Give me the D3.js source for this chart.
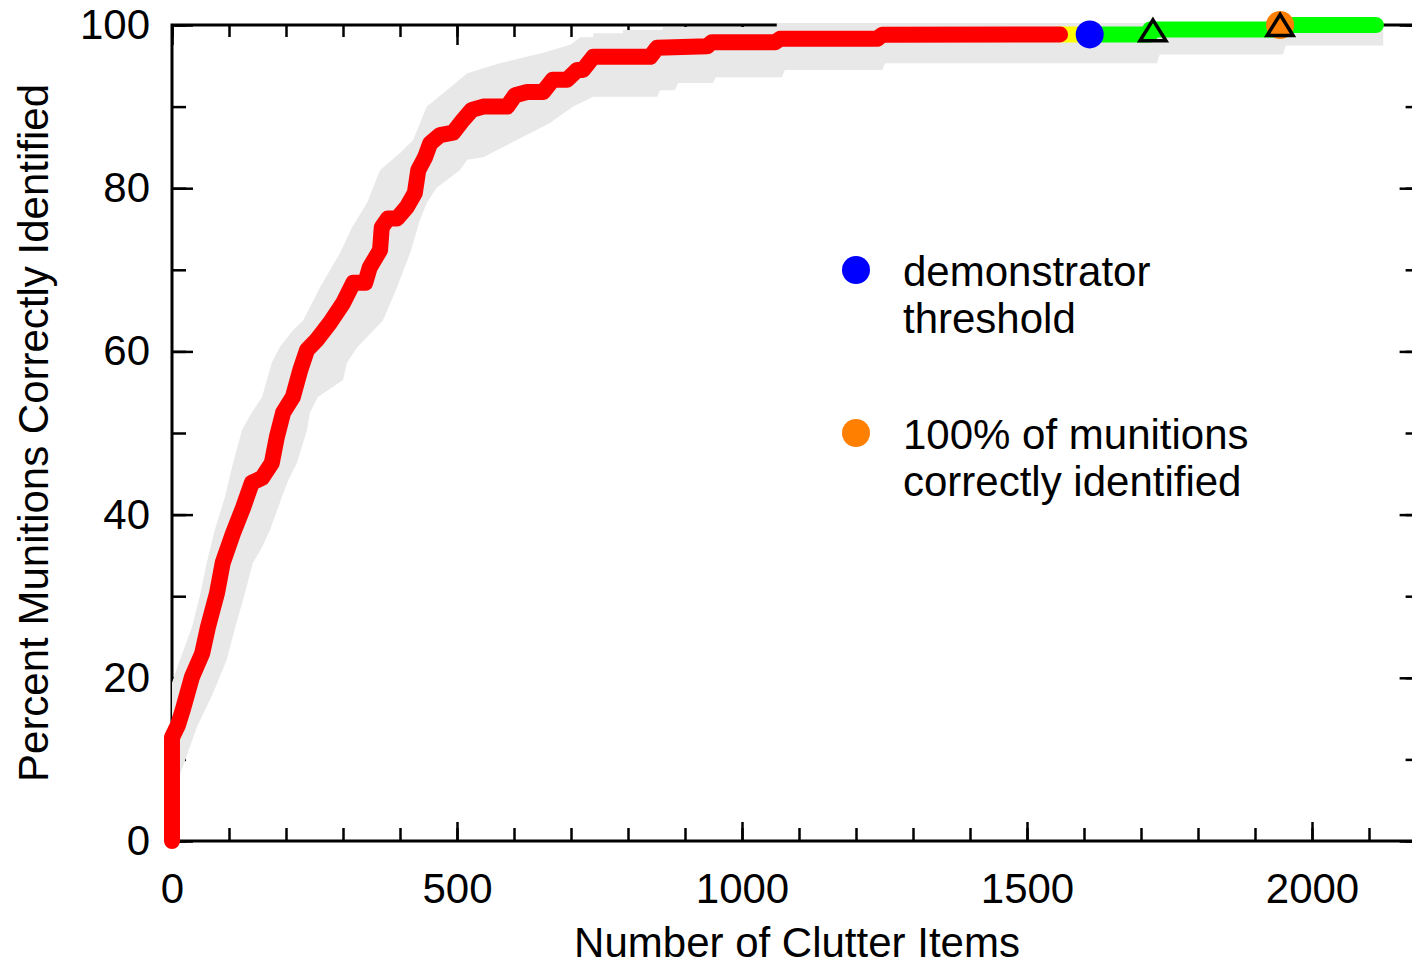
<!DOCTYPE html>
<html>
<head>
<meta charset="utf-8">
<script src="https://cdn.jsdelivr.net/npm/d3@7"></script>
<style>
  html, body { margin: 0; padding: 0; background: #fff; }
  svg { display: block; }
  text { font-family: "Liberation Sans", Arial, sans-serif; fill: #000; }
</style>
</head>
<body>
<svg id="chart" width="1412" height="967"></svg>
<script>
// ---------- data ----------
const xMajorTicks = [0, 500, 1000, 1500, 2000];
const xMinorTicks = d3.range(0, 2200, 100);
const yMajorTicks = [0, 20, 40, 60, 80, 100];
const yMinorTicks = d3.range(0, 101, 10);

// main detection curve (red)
const redPoints = [[0,0],[0,12.7],[10.5,14.2],[19,16.1],[35,20.1],[53,23.0],[63,26.2],[79,30.4],[89,34.1],
  [107,37.7],[125,40.9],[140,43.9],[158,44.5],[175,46.3],[184,49.5],[195,52.5],[212,54.4],[225,57.7],
  [237,60.2],[254,61.4],[277,63.5],[300,65.9],[318,68.4],[339,68.4],[347,70.3],[365,72.4],[368,75.2],
  [379,76.3],[395,76.3],[412,77.7],[426,79.4],[432,82.2],[444,83.8],[453,85.5],[470,86.5],[493,86.8],
  [511,88.4],[526,89.6],[546,90.0],[588,90.0],[602,91.4],[623,91.8],[651,91.8],[668,93.3],[693,93.3],
  [711,94.5],[721,94.5],[739,96.1],[839,96.1],[851,97.2],[939,97.4],[947,97.9],[1058,97.9],[1067,98.3],
  [1237,98.3],[1246,98.8],[1558,98.85]];
const yellowPoints = [[1558,98.85],[1610,98.85]];
const greenPoints = [[1610,98.85],[1716,98.85],[1716,99.45],[1940,99.45],[1940,100],[2112,100]];

// confidence band
const bandUpper = [[0,19.4],[14,22.2],[35,26.2],[49,30.1],[61,34.1],[75,38.1],[93,42.2],[107,46.3],
  [123,50.4],[140,52.5],[158,54.4],[175,58.6],[189,60.5],[212,62.6],[230,63.8],[260,67.9],[295,72.1],
  [316,75.2],[342,78.2],[365,82.2],[400,84.3],[423,85.9],[447,90.0],[482,92.0],[518,94.1],[575,95.3],
  [651,96.6],[700,97.6],[716,98.5],[739,98.5],[739,99.0],[791,99.0],[791,99.4],[861,99.4],[861,99.75],
  [1061,99.75],[1061,100.25],[2125,100.25]];
const bandLower = [[0,5],[8,7],[23,9.9],[44,14.0],[72,18.1],[96,22.2],[111,26.2],[128,30.4],[142,34.1],
  [158,36.0],[172,38.1],[193,42.2],[204,44.2],[219,46.3],[237,50.4],[242,52.5],[256,54.4],[300,56.5],
  [307,58.6],[325,60.5],[370,63.8],[395,67.9],[418,72.1],[435,76.1],[447,78.2],[458,79.4],[465,80.1],
  [505,82.2],[518,83.5],[546,83.8],[605,85.9],[663,88.0],[704,90.0],[739,91.2],[851,91.2],[856,92.0],
  [882,92.0],[888,92.9],[949,92.9],[954,93.6],[1070,93.6],[1075,94.5],[1246,94.5],[1251,95.3],
  [1728,95.3],[1733,96.4],[1949,96.4],[1954,97.5],[2125,97.5]];

// markers
const thresholdPoint = [1610, 98.85];
const fullPoint = [1944, 100];
const trianglePoints = [[1721, 99.35], [1944, 100]];

const legendItems = [
  { color: "#0000ff", lines: ["demonstrator", "threshold"] },
  { color: "#ff8000", lines: ["100% of munitions", "correctly identified"] }
];

// ---------- layout ----------
const mLeft = 172, mTop = 25, mBottom = 841;
const xMax = 2180;
const mRight = mLeft + xMax * 0.57;
const fontSize = 42;

const svg = d3.select("#chart");
const x = d3.scaleLinear().domain([0, xMax]).range([mLeft, mRight]);
const y = d3.scaleLinear().domain([0, 100]).range([mBottom, mTop]);

// ---------- axes / frame ----------
const axesG = svg.append("g");
function styleAxis(g) {
  g.select(".domain").remove();
  g.selectAll(".tick line").attr("stroke", "#000").attr("stroke-width", 2.5);
  g.selectAll("text").attr("font-size", fontSize).attr("font-family", '"Liberation Sans", Arial, sans-serif');
}
// minor ticks
axesG.append("g").attr("transform", `translate(0,${mBottom})`)
  .call(d3.axisBottom(x).tickValues(xMinorTicks).tickSize(-13).tickFormat("")).call(styleAxis);
axesG.append("g").attr("transform", `translate(0,${mTop})`)
  .call(d3.axisTop(x).tickValues(xMinorTicks).tickSize(-12).tickFormat("")).call(styleAxis);
axesG.append("g").attr("transform", `translate(${mLeft},0)`)
  .call(d3.axisLeft(y).tickValues(yMinorTicks).tickSize(-14).tickFormat("")).call(styleAxis);
axesG.append("g").attr("transform", `translate(${mRight},0)`)
  .call(d3.axisRight(y).tickValues(yMinorTicks).tickSize(-9).tickFormat("")).call(styleAxis);
// major ticks with labels
axesG.append("g").attr("transform", `translate(0,${mBottom})`)
  .call(d3.axisBottom(x).tickValues(xMajorTicks).tickSize(-19).tickPadding(32).tickFormat(d3.format("d"))).call(styleAxis);
axesG.append("g").attr("transform", `translate(0,${mTop})`)
  .call(d3.axisTop(x).tickValues(xMajorTicks).tickSize(-20).tickFormat("")).call(styleAxis);
axesG.append("g").attr("transform", `translate(${mLeft},0)`)
  .call(d3.axisLeft(y).tickValues(yMajorTicks).tickSize(-21).tickPadding(22).tickFormat(d3.format("d"))).call(styleAxis);
axesG.append("g").attr("transform", `translate(${mRight},0)`)
  .call(d3.axisRight(y).tickValues(yMajorTicks).tickSize(-15).tickFormat("")).call(styleAxis);

axesG.append("rect")
  .attr("x", mLeft).attr("y", mTop)
  .attr("width", mRight - mLeft).attr("height", mBottom - mTop)
  .attr("fill", "none").attr("stroke", "#000").attr("stroke-width", 3);

// axis titles
svg.append("text")
  .attr("x", 797).attr("y", 957)
  .attr("text-anchor", "middle").attr("font-size", fontSize)
  .text("Number of Clutter Items");
svg.append("text")
  .attr("transform", `translate(48,${(mTop + mBottom) / 2}) rotate(-90)`)
  .attr("text-anchor", "middle").attr("font-size", fontSize)
  .text("Percent Munitions Correctly Identified");

// ---------- band ----------
const bandPoly = bandUpper.concat(bandLower.slice().reverse());
svg.append("path")
  .attr("d", d3.line().x(d => x(d[0])).y(d => y(d[1]))(bandPoly) + "Z")
  .attr("fill", "#e8e8e8").attr("stroke", "none");

// ---------- lines ----------
const line = d3.line().x(d => x(d[0])).y(d => y(d[1]));
function drawLine(pts, color) {
  svg.append("path").attr("d", line(pts))
    .attr("fill", "none").attr("stroke", color).attr("stroke-width", 16)
    .attr("stroke-linecap", "round").attr("stroke-linejoin", "round");
}
drawLine(yellowPoints, "#ffff00");
drawLine(greenPoints, "#00ff00");
drawLine(redPoints, "#ff0000");

// ---------- markers ----------
svg.append("circle").attr("cx", x(thresholdPoint[0])).attr("cy", y(thresholdPoint[1]))
  .attr("r", 14).attr("fill", "#0000ff");
svg.append("circle").attr("cx", x(fullPoint[0])).attr("cy", y(fullPoint[1]))
  .attr("r", 14).attr("fill", "#ff8000");
svg.selectAll("path.tri").data(trianglePoints).enter().append("path")
  .attr("class", "tri")
  .attr("transform", d => `translate(${x(d[0])},${y(d[1])})`)
  .attr("d", "M0,-10.5 L13,10.5 L-13,10.5 Z")
  .attr("fill", "none").attr("stroke", "#000").attr("stroke-width", 3.5)
  .attr("stroke-linejoin", "miter");

// ---------- legend ----------
const legendY = [270, 433];
legendItems.forEach((item, i) => {
  const g = svg.append("g").attr("transform", `translate(856,${legendY[i]})`);
  g.append("circle").attr("r", 14).attr("fill", item.color);
  item.lines.forEach((t, j) => {
    g.append("text").attr("x", 47).attr("y", 16 + j * 47)
      .attr("font-size", fontSize).text(t);
  });
});
</script>
</body>
</html>
